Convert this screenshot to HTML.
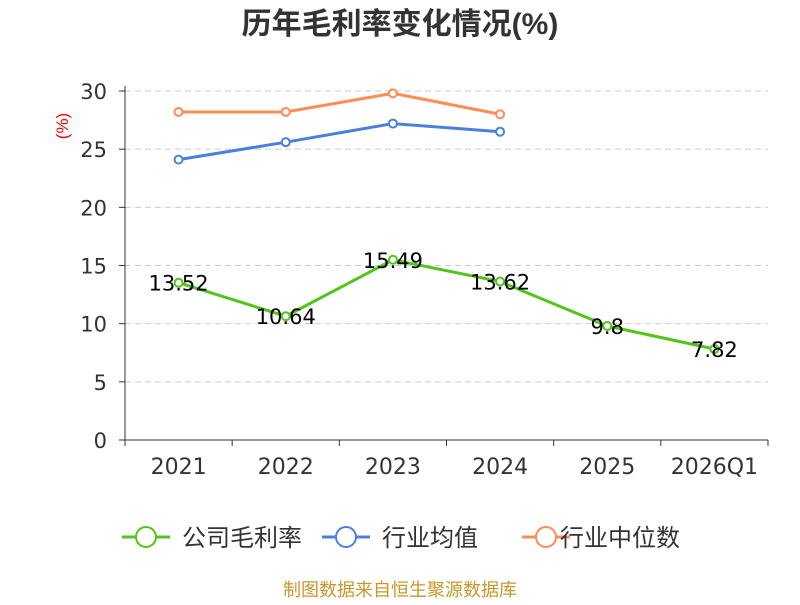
<!DOCTYPE html>
<html><head><meta charset="utf-8"><style>
body{margin:0;background:#fff;}
svg{font-family:"DejaVu Sans","Noto Sans CJK SC",sans-serif;}
</style></head><body>
<svg id="chart" width="800" height="600">
<text x="400" y="34" text-anchor="middle" font-size="30" font-weight="bold" fill="#333" font-family="Liberation Sans, Noto Sans CJK SC, sans-serif">历年毛利率变化情况(%)</text>
<text transform="translate(68,126) rotate(-90)" text-anchor="middle" font-size="17" fill="#e00" font-family="Liberation Sans, sans-serif">(%)</text>
<g id="grid"></g><g id="axes"></g><g id="series"></g>
<g font-family="Liberation Sans, Noto Sans CJK SC, sans-serif">
<g><line x1="122" y1="537" x2="170" y2="537" stroke="#52c41a" stroke-width="3"/><circle cx="146" cy="537" r="10" fill="#fff" stroke="#52c41a" stroke-width="2"/><text x="182" y="546" font-size="24" fill="#333">公司毛利率</text></g>
<g><line x1="322" y1="537" x2="370" y2="537" stroke="#4a7fe0" stroke-width="3"/><circle cx="346" cy="537" r="10" fill="#fff" stroke="#4a7fe0" stroke-width="2"/><text x="382" y="546" font-size="24" fill="#333">行业均值</text></g>
<g><line x1="522" y1="537" x2="570" y2="537" stroke="#ff8c55" stroke-width="3"/><circle cx="546" cy="537" r="10" fill="#fff" stroke="#ff8c55" stroke-width="2"/><text x="560" y="546" font-size="24" fill="#333">行业中位数</text></g>
</g>
<text x="400" y="596" text-anchor="middle" font-size="18" fill="#c8962a" font-family="Liberation Sans, Noto Sans CJK SC, sans-serif">制图数据来自恒生聚源数据库</text>
</svg>
<script>
const categories=["2021","2022","2023","2024","2025","2026Q1"];
const companyValues=[13.52,10.64,15.49,13.62,9.8,7.82];
const companyLabels=["13.52","10.64","15.49","13.62","9.8","7.82"];
const industryAvg=[24.1,25.6,27.2,26.5];
const industryMedian=[28.2,28.2,29.8,28.0];
const yTicks=[0,5,10,15,20,25,30];
const NS="http://www.w3.org/2000/svg";
const x0=125,x1=768,yBase=440,yTop=91,yMax=30;
const bw=(x1-x0)/categories.length;
const xs=i=>x0+bw*(i+0.5);
const ys=v=>yBase-(v/yMax)*(yBase-yTop);
function mk(t,a,p){const e=document.createElementNS(NS,t);for(const k in a)e.setAttribute(k,a[k]);p.appendChild(e);return e;}
const grid=document.getElementById('grid'),axes=document.getElementById('axes'),ser=document.getElementById('series');
yTicks.forEach(v=>{
 if(v>0){const g=mk('line',{x1:x0,x2:x1,y1:ys(v),y2:ys(v),stroke:'#ccc','stroke-dasharray':'6,4'},grid);
 
 }
 mk('line',{x1:x0-6,x2:x0,y1:ys(v),y2:ys(v),stroke:'#333'},axes);
 const t=mk('text',{x:x0-18,y:ys(v)+8,'text-anchor':'end','font-size':21,fill:'#333'},axes);t.textContent=v;
 
 
});
mk('line',{x1:x0,x2:x0,y1:yTop-5,y2:yBase,stroke:'#333'},axes);
mk('line',{x1:x0,x2:x1,y1:yBase,y2:yBase,stroke:'#333'},axes);
for(let i=0;i<=categories.length;i++)mk('line',{x1:x0+bw*i,x2:x0+bw*i,y1:yBase,y2:yBase+6,stroke:'#333'},axes);
categories.forEach((c,i)=>{const t=mk('text',{x:xs(i),y:yBase+34,'text-anchor':'middle','font-size':22,fill:'#333'},axes);t.textContent=c;
 
 });
function line(vals,color,name){
 const p=mk('polyline',{points:vals.map((v,i)=>xs(i)+','+ys(v)).join(' '),fill:'none',stroke:color,'stroke-width':3},ser);
 
 
 vals.forEach((v,i)=>{const c=mk('circle',{cx:xs(i),cy:ys(v),r:4,fill:'#fff',stroke:color,'stroke-width':2},ser);
 
 });
}
line(industryMedian,'#ff8c55','industry-median');
line(industryAvg,'#4a7fe0','industry-avg');
line(companyValues,'#52c41a','company');
companyValues.forEach((v,i)=>{const t=mk('text',{x:xs(i),y:ys(v)+8,'text-anchor':'middle','font-size':21,fill:'#000'},ser);t.textContent=companyLabels[i];
 
 });
</script>
</body></html>
